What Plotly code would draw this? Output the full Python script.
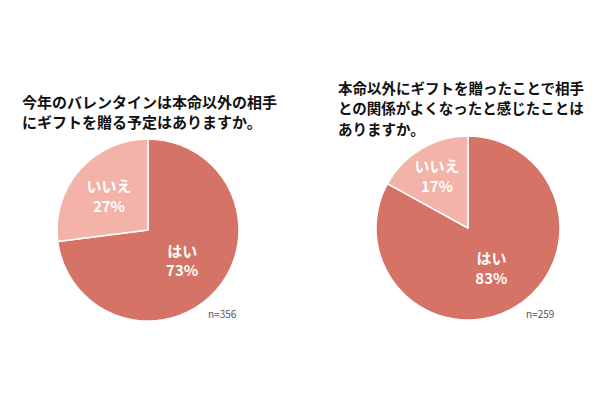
import plotly.graph_objects as go

labels = ["はい", "いいえ"]
left_values = [73, 27]
right_values = [83, 17]
left_title_lines = ["今年のバレンタインは本命以外の相手", "にギフトを贈る予定はありますか。"]
right_title_lines = ["本命以外にギフトを贈ったことで相手", "との関係がよくなったと感じたことは", "ありますか。"]
left_n = "n=356"
right_n = "n=259"
colors = ["#D47366", "#F3B3A9"]

# page body has an 8px margin; figure sized to fit the window
OFF = 8
W, H = 600 - 2 * OFF, 399 - 2 * OFF

def px(x):
    return (x - OFF) / W

def py(y):
    return 1 - (y - OFF) / H

def dom(cx, cy, r):
    return dict(x=[px(cx - r), px(cx + r)], y=[py(cy + r), py(cy - r)])

fig = go.Figure()
for vals, d in [(left_values, dom(148, 230, 91)), (right_values, dom(468, 228, 92))]:
    fig.add_trace(go.Pie(
        labels=labels, values=vals, sort=False, direction="clockwise", rotation=0,
        domain=d, textinfo="text",
        texttemplate="%{label}<br>%{value}%", textposition="inside",
        insidetextorientation="horizontal",
        insidetextfont=dict(color="white", size=15, family="Noto Sans CJK JP", weight="bold"),
        marker=dict(colors=colors, line=dict(color="white", width=1.5)),
        showlegend=False, hoverinfo="skip",
    ))

for lines, x0, y0, size in [(left_title_lines, 20, 101, 15), (right_title_lines, 336, 88, 14.5)]:
    for i, line in enumerate(lines):
        fig.add_annotation(x=px(x0), y=py(y0 + 20 * i), xref="paper", yref="paper",
                           xanchor="left", yanchor="middle", text=line, showarrow=False,
                           align="left",
                           font=dict(size=size, color="#111", family="Noto Sans CJK JP", weight="bold"))

nfont = dict(size=10, color="#555", family="Noto Sans CJK JP")
fig.add_annotation(x=px(222), y=py(313), xref="paper", yref="paper", xanchor="center", yanchor="middle",
                   text=left_n, showarrow=False, font=nfont)
fig.add_annotation(x=px(540), y=py(313), xref="paper", yref="paper", xanchor="center", yanchor="middle",
                   text=right_n, showarrow=False, font=nfont)

fig.update_layout(width=W, height=H, margin=dict(l=0, r=0, t=0, b=0),
                  paper_bgcolor="white", plot_bgcolor="white")
fig.write_html("out.html")
